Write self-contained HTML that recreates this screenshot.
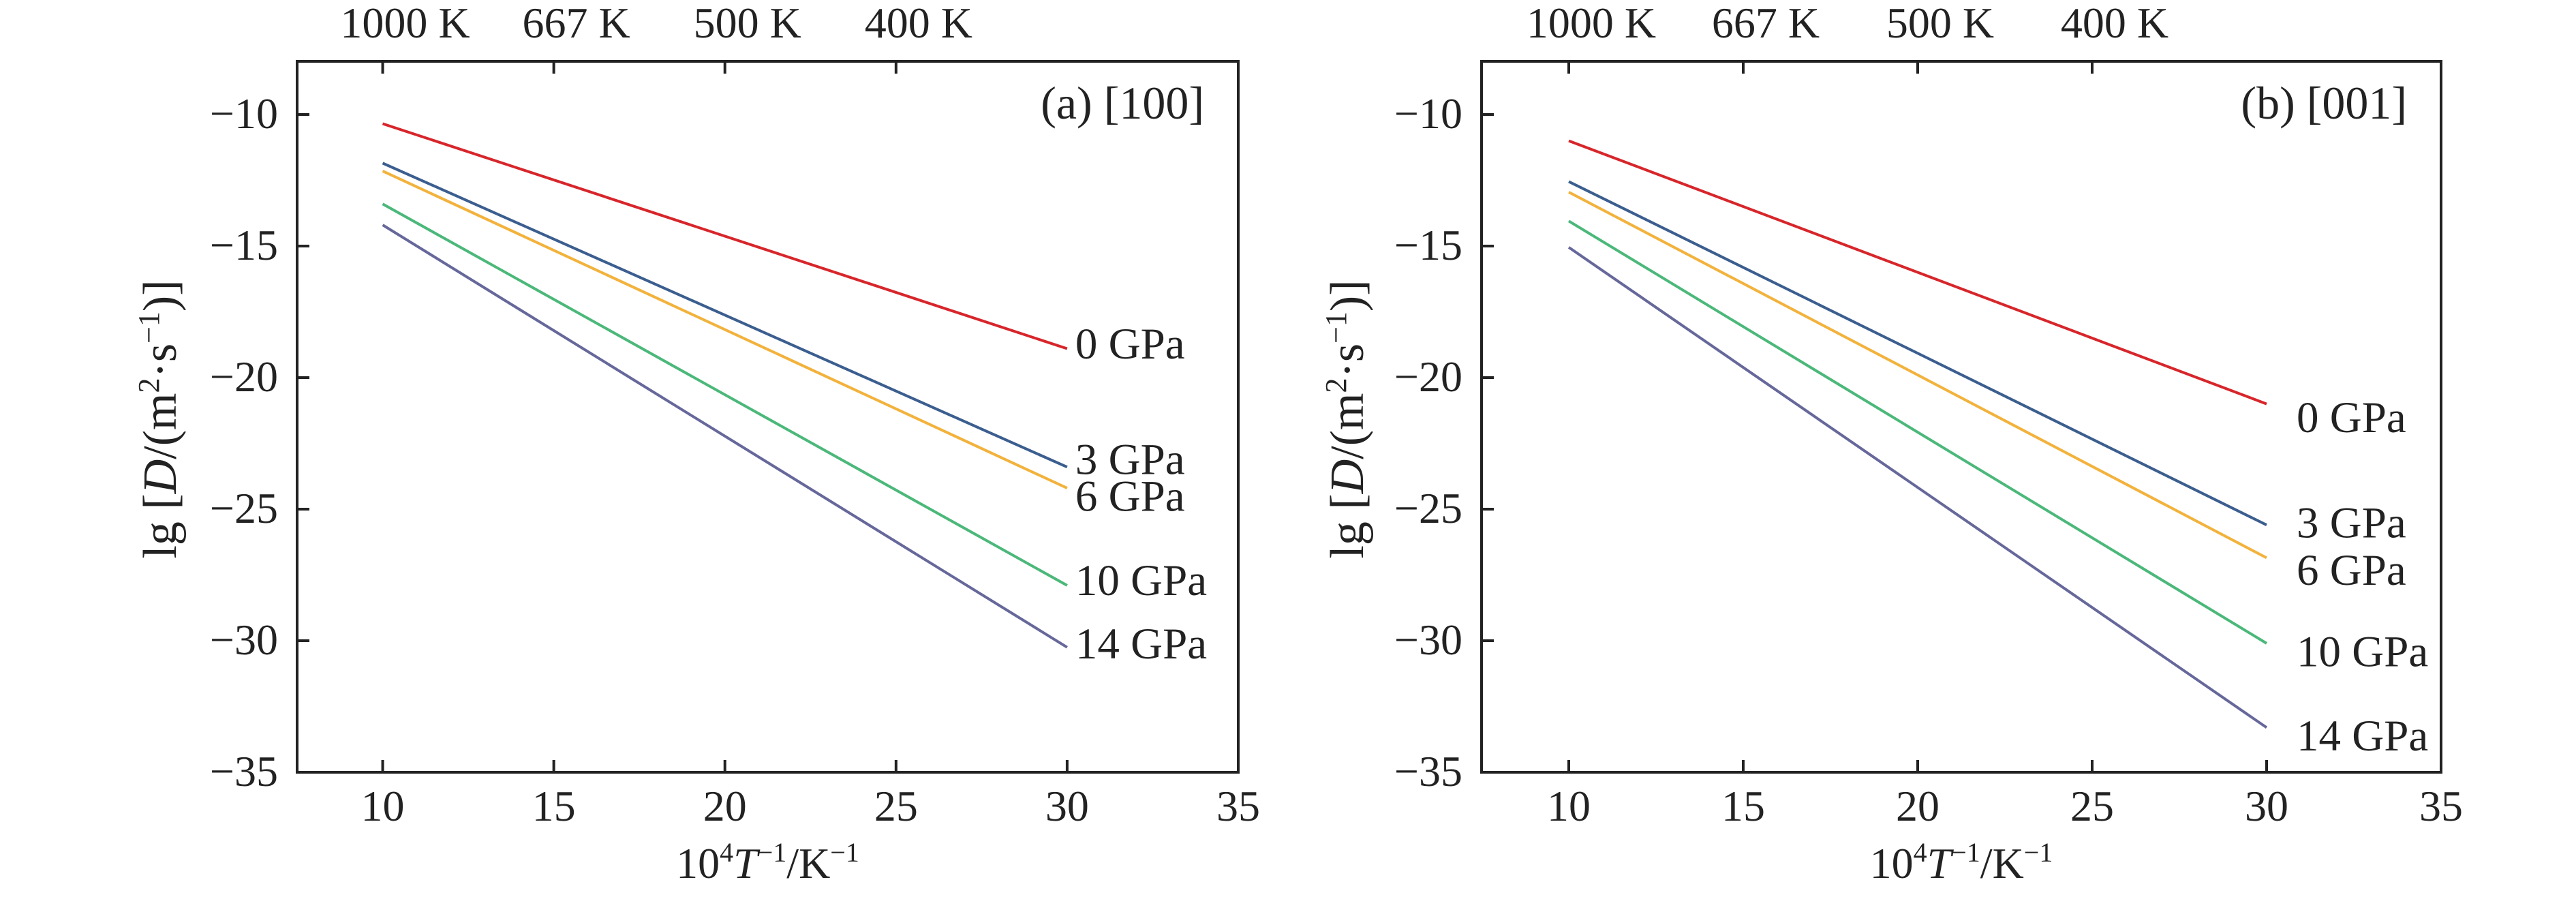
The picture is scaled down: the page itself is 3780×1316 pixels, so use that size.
<!DOCTYPE html>
<html><head><meta charset="utf-8"><style>
html,body{margin:0;padding:0;background:#fff;}
svg{display:block;font-family:"Liberation Serif",serif;}
</style></head><body>
<svg id="c" width="3780" height="1316" viewBox="0 0 3780 1316" xmlns="http://www.w3.org/2000/svg"></svg>
<script>
const pressures = ["0 GPa","3 GPa","6 GPa","10 GPa","14 GPa"];
const xValues = [10, 30];
const seriesA_start = [-10.35, -11.85, -12.15, -13.4, -14.2];
const seriesA_end = [-18.9, -23.4, -24.2, -27.9, -30.25];
const seriesB_start = [-11.0, -12.55, -12.95, -14.05, -15.05];
const seriesB_end = [-21.0, -25.6, -26.85, -30.1, -33.3];
const xTicks = [10, 15, 20, 25, 30, 35];
const yTicks = [-10, -15, -20, -25, -30, -35];
const topTickVals = [10, 15, 20, 25];
const topLabels = ["1000 K","667 K","500 K","400 K"];
const colors = ["#d7262b","#3b5e8f","#f2b23c","#4bb87a","#66679a"];
const labelYA = [-18.7, -23.1, -24.5, -27.7, -30.1];
const labelYB = [-21.5, -25.5, -27.3, -30.4, -33.6];

const NS = "http://www.w3.org/2000/svg";
const svg = document.getElementById('c');
function mk(tag, attrs, parent){const e=document.createElementNS(NS,tag);for(const k in attrs)e.setAttribute(k,attrs[k]);(parent||svg).appendChild(e);return e;}

function panel(id, left, right, tag, starts, ends, labelY, labelDx, ytitleX){
  const top=90, bottom=1133, xmin=7.5, xmax=35, ymin=-35, ymax=-7.98;
  const X=v=>left+(v-xmin)/(xmax-xmin)*(right-left);
  const Y=v=>bottom-(v-ymin)/(ymax-ymin)*(bottom-top);
  const g=mk('g',{});
  
  
  const frame=mk('rect',{x:left,y:top,width:right-left,height:bottom-top,fill:'none',stroke:'#222','stroke-width':4},g);
  
  
  xTicks.forEach(v=>{
    const t=mk('line',{x1:X(v),x2:X(v),y1:bottom,y2:bottom-18,stroke:'#222','stroke-width':4},g);
    
    
    const l=mk('text',{x:X(v),y:1204,'font-size':64,'text-anchor':'middle',fill:'#222'},g);
    l.textContent=v;
    
    
  });
  topTickVals.forEach((v,i)=>{
    const t=mk('line',{x1:X(v),x2:X(v),y1:top,y2:top+18,stroke:'#222','stroke-width':4},g);
    
    
    const l=mk('text',{x:X(v)+33,y:55,'font-size':64,'text-anchor':'middle',fill:'#222'},g);
    l.textContent=topLabels[i];
    
    
  });
  yTicks.forEach(v=>{
    const t=mk('line',{x1:left,x2:left+18,y1:Y(v),y2:Y(v),stroke:'#222','stroke-width':4},g);
    
    
    const l=mk('text',{x:left-28,y:Y(v)+20,'font-size':64,'text-anchor':'end',fill:'#222'},g);
    l.textContent='\u2212'+Math.abs(v);
    
    
  });
  pressures.forEach((p,i)=>{
    const ln=mk('line',{x1:X(xValues[0]),y1:Y(starts[i]),x2:X(xValues[1]),y2:Y(ends[i]),stroke:colors[i],'stroke-width':4},g);
    
    
    const l=mk('text',{x:X(xValues[1])+labelDx,y:Y(labelY[i])+22,'font-size':65,fill:'#222'},g);
    l.textContent=p;
    
    
  });
  const tg=mk('text',{x:right-50,y:174,'font-size':68,'text-anchor':'end',fill:'#222'},g);
  tg.textContent=tag;
  
  
  const yt=mk('text',{x:0,y:0,'font-size':70,'text-anchor':'middle',fill:'#222',transform:`translate(${ytitleX},615) rotate(-90)`},g);
  yt.innerHTML='lg [<tspan font-style="italic">D</tspan>/(m<tspan font-size="44" dy="-25">2</tspan><tspan dy="25">·s</tspan><tspan font-size="44" dy="-25">−1</tspan><tspan dy="25">)]</tspan>';
  
  
  const xt=mk('text',{x:(left+right)/2,y:1288,'font-size':64,'text-anchor':'middle',fill:'#222'},g);
  xt.innerHTML='10<tspan font-size="40" dy="-24">4</tspan><tspan dy="24" font-style="italic">T</tspan><tspan font-size="40" dy="-24">−1</tspan><tspan dy="24">/K</tspan><tspan font-size="40" dy="-24">−1</tspan>';
  
  
}
panel('a',436,1817,'(a) [100]',seriesA_start,seriesA_end,labelYA,12,258);
panel('b',2174,3582,'(b) [001]',seriesB_start,seriesB_end,labelYB,44,2000);
</script>
</body></html>
